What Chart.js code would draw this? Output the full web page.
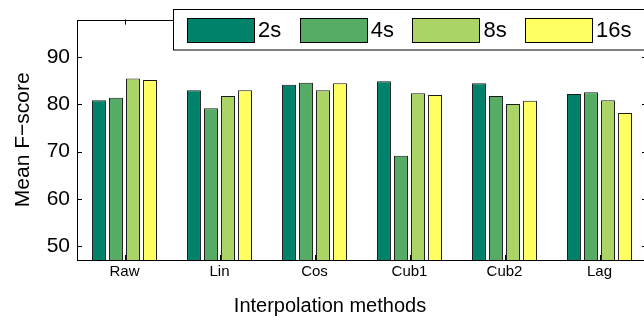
<!DOCTYPE html>
<html>
<head>
<meta charset="utf-8">
<script src="https://cdn.jsdelivr.net/npm/chart.js@4.4.1/dist/chart.umd.min.js"></script>
<style>
  html, body { margin: 0; padding: 0; overflow: hidden; background: #fff; }
  canvas { display: block; }
</style>
</head>
<body>
<canvas id="fscoreChart" width="650" height="323"></canvas>
<script>
const methods = ["Raw", "Lin", "Cos", "Cub1", "Cub2", "Lag"];
const windows = ["2s", "4s", "8s", "16s"];
const score2s = [80.9, 83.0, 84.2, 84.9, 84.5, 82.2];
const score4s = [81.4, 79.2, 84.6, 69.1, 81.8, 82.6];
const score8s = [85.5, 81.8, 83.0, 82.4, 80.1, 80.9];
const score16s = [85.2, 83.0, 84.5, 82.0, 80.8, 78.2];
const yTicks = [50, 60, 70, 80, 90];

const colors = ["#00826a", "#56ab65", "#aad566", "#ffff62"];
const FONT = "'Liberation Sans', Arial, Helvetica, sans-serif";

// MATLAB-style box: inward ticks, frame lines, boxed legend, x label
const matlabAxes = {
    id: "matlabAxes",
    beforeDatasetsDraw(chart) {
        const { ctx, chartArea: a, scales: { x, y } } = chart;
        ctx.save();
        ctx.strokeStyle = "#000";
        ctx.lineWidth = 1;
        ctx.beginPath();
        yTicks.forEach(v => {
            const py = Math.round(y.getPixelForValue(v)) + 0.5;
            ctx.moveTo(a.left, py); ctx.lineTo(a.left + 5, py);
            ctx.moveTo(a.right - 5, py); ctx.lineTo(a.right, py);
        });
        methods.forEach((m, i) => {
            const px = Math.round(x.getPixelForValue(i)) + 0.5;
            ctx.moveTo(px, a.bottom); ctx.lineTo(px, a.bottom - 5);
            ctx.moveTo(px, a.top); ctx.lineTo(px, a.top + 5);
        });
        ctx.stroke();
        ctx.restore();
    },
    afterDatasetsDraw(chart) {
        const { ctx, chartArea: a } = chart;
        ctx.save();
        ctx.strokeStyle = "#000";
        ctx.lineWidth = 1;
        ctx.strokeRect(Math.round(a.left) + 0.5, Math.round(a.top) + 0.5,
            Math.round(a.right - a.left), Math.round(a.bottom - a.top));

        // legend box
        ctx.fillStyle = "#fff";
        ctx.fillRect(173.5, 9.5, 500, 40.5);
        ctx.strokeRect(173.5, 9.5, 500, 40.5);
        ctx.font = "22px " + FONT;
        ctx.textBaseline = "middle";
        ctx.textAlign = "left";
        chart.data.datasets.forEach((ds, i) => {
            const sx = 187 + i * 112.7;
            ctx.fillStyle = ds.backgroundColor;
            ctx.fillRect(Math.round(sx) + 0.5, 18.5, 67, 24);
            ctx.strokeRect(Math.round(sx) + 0.5, 18.5, 67, 24);
            ctx.fillStyle = "#000";
            ctx.fillText(ds.label, sx + 71, 31);
        });

        // x axis label
        ctx.font = "20px " + FONT;
        ctx.textAlign = "center";
        ctx.fillText("Interpolation methods", 330, 306.5);
        ctx.restore();
    }
};

const ctx = document.getElementById("fscoreChart").getContext("2d");
new Chart(ctx, {
    type: "bar",
    data: {
        labels: methods,
        datasets: [score2s, score4s, score8s, score16s].map((vals, i) => ({
            label: windows[i],
            data: vals,
            backgroundColor: colors[i],
            borderColor: "#1a1a1a",
            borderWidth: 1,
            categoryPercentage: 0.716,
            barPercentage: 0.82,
        })),
    },
    options: {
        responsive: false,
        animation: false,
        layout: { padding: { top: 10, right: 3, left: 0, bottom: 0 } },
        scales: {
            x: {
                grid: { display: false, drawTicks: false },
                border: { display: false },
                ticks: { color: "#000", font: { family: FONT, size: 15 }, padding: 3 },
                afterFit: (s) => { s.height = 63; },
            },
            y: {
                min: 47,
                max: 98,
                afterBuildTicks: (s) => { s.ticks = yTicks.map(v => ({ value: v })); },
                grid: { display: false, drawTicks: false },
                border: { display: false },
                ticks: { color: "#000", font: { family: FONT, size: 21 }, padding: 7 },
                title: {
                    display: true,
                    text: "Mean F−score",
                    color: "#000",
                    font: { family: FONT, size: 21 },
                    padding: { top: 11, bottom: 0 },
                },
                afterFit: (s) => { s.width = 77; },
            },
        },
        plugins: {
            legend: { display: false },
            tooltip: { enabled: false },
        },
    },
    plugins: [matlabAxes],
});
</script>
</body>
</html>
